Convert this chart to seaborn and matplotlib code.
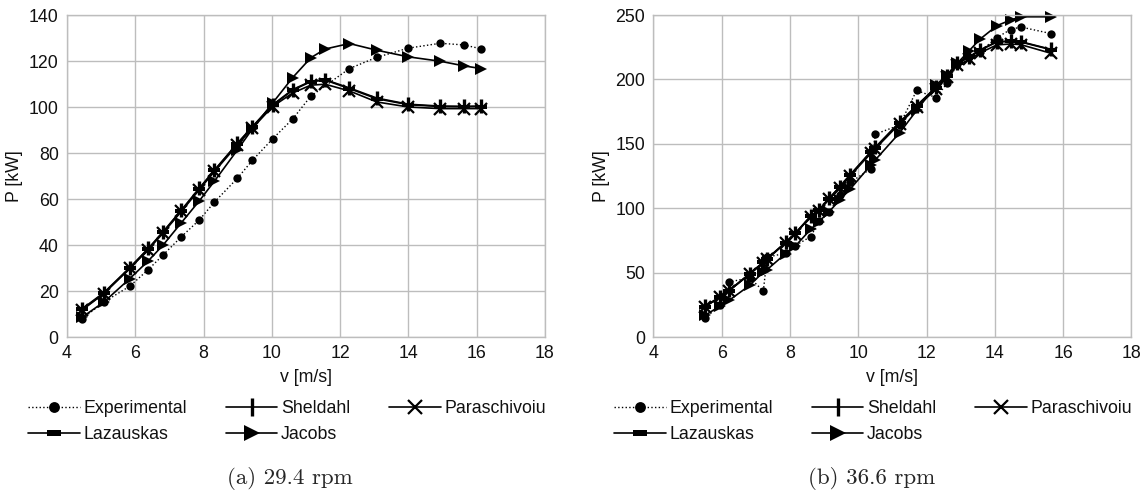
import matplotlib
matplotlib.use("Agg")
import matplotlib.pyplot as plt
import seaborn as sns
import numpy as np

# ---------------- data: (a) 29.4 rpm ----------------
v_exp_a = [4.45, 5.08, 5.84, 6.38, 6.81, 7.35, 7.87, 8.32, 8.99, 9.43, 10.02,
           10.61, 11.14, 12.27, 13.07, 14.0, 14.93, 15.62, 16.13]
p_exp_a = [8.0, 15.2, 22.1, 29.3, 35.6, 43.6, 50.8, 58.7, 69.0, 76.8, 86.1,
           94.8, 104.7, 116.7, 121.6, 125.6, 127.7, 127.0, 125.3]

v_mod_a = [4.45, 5.08, 5.84, 6.38, 6.81, 7.35, 7.87, 8.32, 8.99, 9.43, 10.02,
           10.61, 11.14, 11.56, 12.27, 13.07, 14.0, 14.93, 15.62, 16.13]
p_sheldahl_a = [12.3, 19.3, 30.2, 38.5, 45.7, 55.2, 64.6, 72.6, 84.2, 91.5, 100.9,
                107.6, 111.2, 111.9, 108.3, 103.9, 101.2, 100.4, 100.3, 100.4]
p_lazauskas_a = [12.0, 19.0, 30.0, 38.3, 45.5, 55.0, 64.4, 72.4, 84.0, 91.3, 100.7,
                 107.3, 111.0, 111.7, 108.0, 103.6, 101.0, 100.2, 100.1, 100.2]
p_parasch_a = [11.8, 18.9, 29.8, 38.0, 45.2, 54.6, 64.0, 72.0, 83.5, 90.8, 100.2,
               106.1, 109.5, 109.9, 107.0, 102.2, 100.0, 99.3, 99.3, 99.3]
p_jacobs_a = [8.7, 15.2, 25.4, 33.1, 39.9, 49.7, 59.1, 67.8, 81.3, 90.5, 101.7,
              112.8, 121.4, 125.2, 127.6, 124.7, 121.8, 119.9, 117.9, 116.7]

# ---------------- data: (b) 36.6 rpm ----------------
v_b = [5.51, 5.94, 6.22, 6.82, 7.22, 7.33, 7.87, 8.16, 8.61, 8.85, 9.15, 9.46, 9.76,
       10.37, 10.50, 11.21, 11.71, 12.28, 12.60, 12.90, 13.25, 13.56, 14.06, 14.46,
       14.76, 15.64]
p_exp_b = [14.5, 24.5, 42.7, 46.0, 35.7, 62.0, 65.0, 71.0, 78.0, 90.0, 97.0, 110.0,
           120.0, 130.6, 157.5, 164.5, 191.4, 185.9, 197.0, 212.0, 217.5, 221.5,
           232.5, 238.7, 240.7, 235.6]
p_sheldahl_b = [23.8, 31.1, 36.3, 49.2, 58.2, 60.9, 73.5, 80.8, 94.0, 98.7, 107.8,
                116.8, 125.9, 143.9, 147.3, 166.8, 179.7, 193.9, 203.0, 212.7, 217.5,
                222.8, 229.3, 229.8, 229.3, 223.4]
p_lazauskas_b = [23.5, 30.8, 36.0, 48.9, 57.9, 60.6, 73.2, 80.5, 93.7, 98.4, 107.5,
                 116.5, 125.6, 143.6, 147.0, 166.5, 179.4, 193.6, 202.7, 212.4, 217.2,
                 222.5, 229.0, 229.5, 229.0, 223.1]
p_parasch_b = [23.5, 30.8, 36.0, 48.8, 57.8, 60.4, 73.0, 80.3, 93.4, 98.1, 107.1,
               116.0, 125.0, 142.8, 146.2, 165.6, 178.4, 192.5, 201.5, 210.8, 215.5,
               220.5, 226.8, 227.5, 227.0, 220.3]
p_jacobs_b = [16.8, 23.8, 28.5, 40.1, 50.5, 52.3, 64.7, 70.7, 83.7, 89.6, 97.4,
              106.4, 114.7, 133.6, 137.5, 158.5, 175.9, 195.7, 203.4, 212.5, 222.3,
              231.1, 241.7, 246.1, 248.6, 248.6]

captions = ["(a) 29.4 rpm", "(b) 36.6 rpm"]
xlabel = "v [m/s]"
ylabel = "P [kW]"

# ---------------- style ----------------
sns.set_style("white")
plt.rcParams["font.family"] = ["Liberation Sans", "DejaVu Sans"]
FS = 12.8
GRID = "#bdbdbd"
TXT = "#111111"

rect_marker = [(-1, -0.38), (1, -0.38), (1, 0.38), (-1, 0.38), (-1, -0.38)]

fig = plt.figure(figsize=(11.45, 4.96), dpi=100)
ax_a = fig.add_axes([67 / 1145, 1 - 337 / 496, 478 / 1145, 322 / 496])
ax_b = fig.add_axes([653.4 / 1145, 1 - 337 / 496, 478 / 1145, 322 / 496])


def draw(ax, v_exp, p_exp, v_mod, sh, la, pa, ja):
    common = dict(color="black", ax=ax, sort=False, estimator=None,
                  markeredgecolor="black", markerfacecolor="black", clip_on=False)
    sns.lineplot(x=v_exp, y=p_exp, linestyle=":", linewidth=1.0, marker="o",
                 markersize=6, markeredgewidth=0, label="Experimental", **common)
    sns.lineplot(x=v_mod, y=la, linewidth=1.2, marker=rect_marker,
                 markersize=8, markeredgewidth=0, label="Lazauskas", **common)
    sns.lineplot(x=v_mod, y=sh, linewidth=1.2, marker="|",
                 markersize=10, markeredgewidth=2.4, label="Sheldahl", **common)
    sns.lineplot(x=v_mod, y=ja, linewidth=1.2, marker=">",
                 markersize=8.5, markeredgewidth=0, label="Jacobs", **common)
    sns.lineplot(x=v_mod, y=pa, linewidth=1.2, marker="x",
                 markersize=8, markeredgewidth=1.6, label="Paraschivoiu", **common)


draw(ax_a, v_exp_a, p_exp_a, v_mod_a, p_sheldahl_a, p_lazauskas_a, p_parasch_a, p_jacobs_a)
draw(ax_b, v_b, p_exp_b, v_b, p_sheldahl_b, p_lazauskas_b, p_parasch_b, p_jacobs_b)

for ax, ymax, ystep in [(ax_a, 140, 20), (ax_b, 250, 50)]:
    ax.set_xlim(4, 18)
    ax.set_ylim(0, ymax)
    ax.set_xticks(np.arange(4, 19, 2))
    ax.set_yticks(np.arange(0, ymax + 1, ystep))
    ax.grid(True, color=GRID, linewidth=1.0)
    ax.set_axisbelow(True)
    for s in ax.spines.values():
        s.set_color(GRID)
        s.set_linewidth(1.0)
    ax.tick_params(axis="both", colors=GRID, labelcolor=TXT, labelsize=FS,
                   length=4, width=1.0, direction="out", pad=2)
    ax.set_xlabel(xlabel, fontsize=FS, color=TXT, labelpad=5)
    ax.set_ylabel(ylabel, fontsize=FS, color=TXT, labelpad=4)
    ax.get_legend().remove()

for ax, x0 in [(ax_a, 28 / 1145), (ax_b, 614 / 1145)]:
    h, l = ax.get_legend_handles_labels()
    fig.legend(h, l, loc="upper left", bbox_to_anchor=(x0, 1 - 400 / 496),
               ncol=3, frameon=False, fontsize=FS, handlelength=2.9,
               handletextpad=0.2, columnspacing=2.2, labelspacing=0.5,
               markerscale=1.3, borderaxespad=0, borderpad=0, labelcolor=TXT)

fig.text(290 / 1145, 1 - 478 / 496, captions[0], ha="center", va="center",
         fontfamily="cmr10", fontsize=16.5)
fig.text(872 / 1145, 1 - 478 / 496, captions[1], ha="center", va="center",
         fontfamily="cmr10", fontsize=16.5)

fig.savefig("out.png", dpi=100)
